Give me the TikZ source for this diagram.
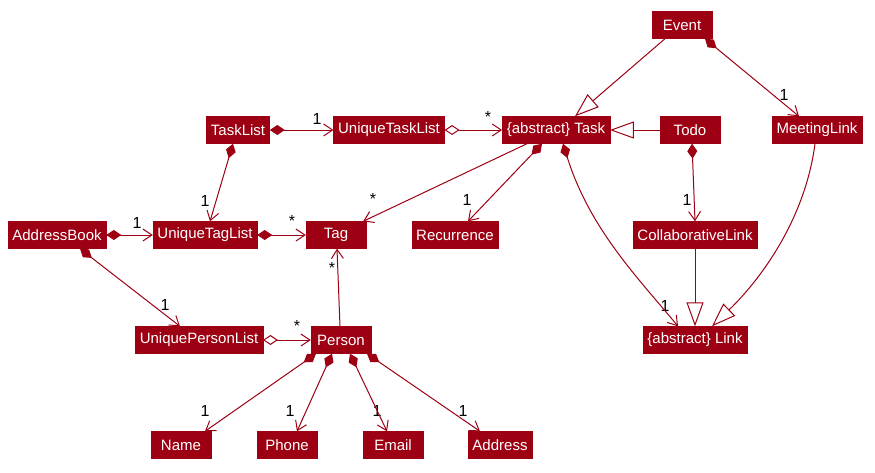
\documentclass[tikz,border=0pt]{standalone}
\usepackage{fontspec}
\setmainfont{Liberation Sans}
\usetikzlibrary{positioning, arrows.meta}
\definecolor{model}{HTML}{9D0012}
\tikzset{
  cls/.style={fill=model, draw=model, text=white, minimum height=27pt, minimum width=60pt,
    inner xsep=4.5pt, inner ysep=0pt, font=\fontsize{15}{17}\selectfont},
  mult/.style={text=black, inner sep=0pt, font=\fontsize{16}{18}\selectfont},
  comp/.style={draw=model, line width=1pt, {Diamond[length=15pt,width=10pt]}-{Straight Barb[length=9pt,width=12pt]}},
  aggr/.style={draw=model, line width=1pt, {Diamond[open,length=15pt,width=10pt]}-{Straight Barb[length=9pt,width=12pt]}},
  assoc/.style={draw=model, line width=1pt, -{Straight Barb[length=9pt,width=12pt]}},
  inh/.style={draw=model, line width=1pt, -{Triangle[open,length=24pt,width=17pt]}}
}
\begin{document}
\begin{tikzpicture}[x=1pt, y=-1pt]
      \useasboundingbox (0,0) rectangle (875,472);

      \node[cls] (Event) at (682,25) {Event};

      \node[cls] (TaskList) at (238,130) {TaskList};
      \node[cls] (UniqueTaskList) at (389,130) {UniqueTaskList};
      \node[cls] (Task) at (556,130) {\{abstract\} Task};
      \node[cls] (Todo) at (690,130) {Todo};
      \node[cls] (MeetingLink) at (817,130) {MeetingLink};

      \node[cls] (AddressBook) at (57,235) {AddressBook};
      \node[cls] (UniqueTagList) at (205,235) {UniqueTagList};
      \node[cls] (Tag) at (336,235) {Tag};
      \node[cls] (Recurrence) at (455,235) {Recurrence};
      \node[cls] (CollaborativeLink) at (695,235) {CollaborativeLink};

      \node[cls] (UniquePersonList) at (199,340) {UniquePersonList};
      \node[cls] (Person) at (341,340) {Person};
      \node[cls] (Link) at (695,340) {\{abstract\} Link};

      \node[cls] (Name) at (181,445) {Name};
      \node[cls] (Phone) at (287,445) {Phone};
      \node[cls] (Email) at (393,445) {Email};
      \node[cls] (Address) at (500,445) {Address};

      % multiplicities
      \node[mult] (L1) at (784,95) {1};
      \node[mult] (L2) at (317,119) {1};
      \node[mult] (L3) at (488,117) {*};
      \node[mult] (L4) at (205,201) {1};
      \node[mult] (L5) at (373,199) {*};
      \node[mult] (L6) at (467,200) {1};
      \node[mult] (L7) at (687,200) {1};
      \node[mult] (L8) at (137,223) {1};
      \node[mult] (L9) at (292,221) {*};
      \node[mult] (L10) at (665,306) {1};
      \node[mult] (L11) at (165,305) {1};
      \node[mult] (L12) at (297,326) {*};
      \node[mult] (L13) at (332,268) {*};
      \node[mult] (L14) at (205,411) {1};
      \node[mult] (L15) at (290,411) {1};
      \node[mult] (L16) at (377,411) {1};
      \node[mult] (L17) at (463,411) {1};

      \draw[inh] ([xshift=-17pt]Event.south) -- ([xshift=19pt]Task.north);
      \draw[comp] ([xshift=23pt]Event.south) -- ([xshift=-18pt]MeetingLink.north);
      \draw[comp] (node cs:name=TaskList) -- (node cs:name=UniqueTaskList);
      \draw[aggr] (node cs:name=UniqueTaskList) -- (node cs:name=Task);
      \draw[inh] (node cs:name=Todo) -- (node cs:name=Task);
      \draw[comp] ([xshift=-5pt]TaskList.south) -- ([xshift=5pt]UniqueTagList.north);
      \draw[assoc] ([xshift=-29pt]Task.south) -- ([xshift=-3pt]Tag.north east);
      \draw[comp] ([xshift=-14pt]Task.south) -- ([xshift=13pt]Recurrence.north);
      \draw[comp] ([xshift=7pt]Task.south) .. controls (590,230) and (640,280) .. ([xshift=-17pt]Link.north);
      \draw[comp] ([xshift=2pt]Todo.south) -- (CollaborativeLink.north);
      \draw[inh] (node cs:name=CollaborativeLink) -- (node cs:name=Link);
      \draw[inh] ([xshift=-2pt]MeetingLink.south) .. controls (805,220) and (760,280) .. ([xshift=17pt]Link.north);
      \draw[comp] (node cs:name=AddressBook) -- (node cs:name=UniqueTagList);
      \draw[comp] (node cs:name=UniqueTagList) -- (node cs:name=Tag);
      \draw[comp] ([xshift=23pt]AddressBook.south) -- ([xshift=-19pt]UniquePersonList.north);
      \draw[aggr] (node cs:name=UniquePersonList) -- (node cs:name=Person);
      \draw[assoc] ([xshift=-1pt]Person.north) -- ([xshift=1pt]Tag.south);
      \draw[comp] ([xshift=-25pt]Person.south) -- ([xshift=24pt]Name.north);
      \draw[comp] ([xshift=-9pt]Person.south) -- ([xshift=10pt]Phone.north);
      \draw[comp] ([xshift=9pt]Person.south) -- ([xshift=-6pt]Email.north);
      \draw[comp] ([xshift=26pt]Person.south) -- ([xshift=-20pt]Address.north);
\end{tikzpicture}
\end{document}
